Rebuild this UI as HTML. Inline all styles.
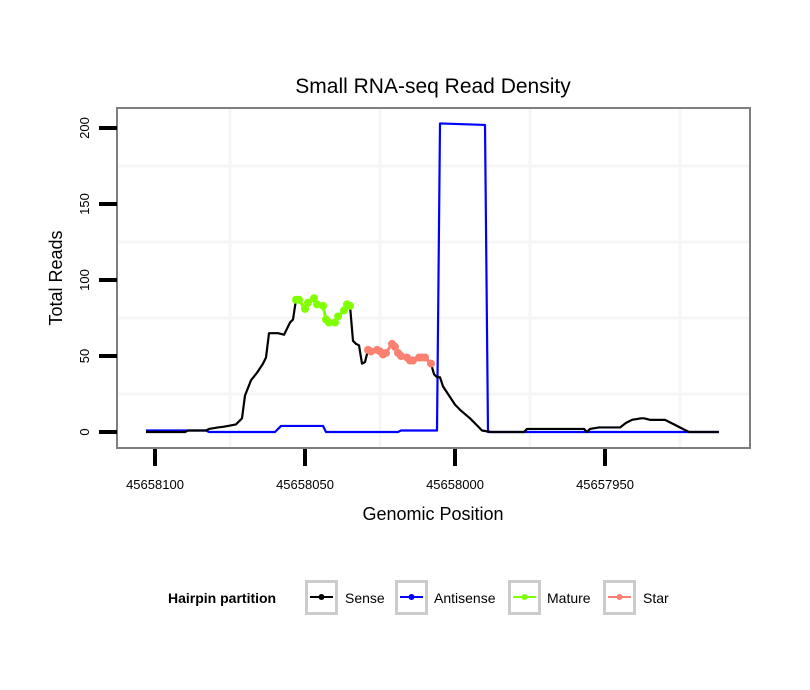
<!DOCTYPE html>
<html><head><meta charset="utf-8"><style>
html,body{margin:0;padding:0;background:#fff;}
svg{display:block;font-family:"Liberation Sans",Arial,sans-serif;}
</style></head><body>
<svg id="chart" width="810" height="690" viewBox="0 0 810 690">
<text x="433" y="93" text-anchor="middle" font-size="21">Small RNA-seq Read Density</text>
<rect x="117" y="108" width="633" height="340" fill="#fff"/>
<g id="grid"></g>
<g id="series"></g>
<rect x="117" y="108" width="633" height="340" fill="none" stroke="#7f7f7f" stroke-width="2"/>
<g id="axes"></g>
<text x="433" y="520" text-anchor="middle" font-size="18">Genomic Position</text>
<text transform="translate(62,278) rotate(-90)" text-anchor="middle" font-size="18">Total Reads</text>
<g>
<text x="168" y="603" font-size="14" font-weight="bold">Hairpin partition</text>
<g>
<rect x="306.5" y="581.5" width="30" height="32" fill="#fff" stroke="#cccccc" stroke-width="3"/>
<line x1="310" y1="597" x2="333" y2="597" stroke="#000" stroke-width="2"/><circle cx="321.5" cy="597" r="3" fill="#000"/>
<text x="345" y="603" font-size="14">Sense</text></g>
<g>
<rect x="396.5" y="581.5" width="30" height="32" fill="#fff" stroke="#cccccc" stroke-width="3"/>
<line x1="400" y1="597" x2="423" y2="597" stroke="#0000ff" stroke-width="2"/><circle cx="411.5" cy="597" r="3" fill="#0000ff"/>
<text x="434" y="603" font-size="14">Antisense</text></g>
<g>
<rect x="509.5" y="581.5" width="30" height="32" fill="#fff" stroke="#cccccc" stroke-width="3"/>
<line x1="513" y1="597" x2="536" y2="597" stroke="#7fff00" stroke-width="2"/><circle cx="524.5" cy="597" r="3" fill="#7fff00"/>
<text x="547" y="603" font-size="14">Mature</text></g>
<g>
<rect x="604.5" y="581.5" width="30" height="32" fill="#fff" stroke="#cccccc" stroke-width="3"/>
<line x1="608" y1="597" x2="631" y2="597" stroke="#fa8072" stroke-width="2"/><circle cx="619.5" cy="597" r="3" fill="#fa8072"/>
<text x="643" y="603" font-size="14">Star</text></g>
</g>
</svg>
<script>
const xTicks = [45658100, 45658050, 45658000, 45657950];
const xMinor = [45658075, 45658025, 45657975, 45657925];
const yTicks = [0, 50, 100, 150, 200];
const yMinor = [25, 75, 125, 175];
const sensePos = [45658103,45658090,45658089,45658083,45658082,45658079,45658077,45658073,45658071,45658070,45658068,45658066,45658064,45658063,45658062,45658059,45658057,45658055,45658054,45658053,45658052,45658050,45658049,45658047,45658046,45658044,45658043,45658042,45658040,45658039,45658037,45658036,45658035,45658034,45658033,45658032,45658031,45658030,45658029,45658028,45658026,45658025,45658024,45658023,45658021,45658020,45658019,45658018,45658016,45658015,45658014,45658012,45658011,45658010,45658008,45658007,45658006,45658005,45658004,45658002,45658000,45657998,45657995,45657993,45657991,45657988,45657977,45657976,45657957,45657956,45657955,45657952,45657945,45657943,45657941,45657938,45657937,45657935,45657930,45657927,45657924,45657922,45657912];
const senseVal = [0,0,1,1,2,3,3.5,5,9,24,34,39,45,49,65,65,64,72,74,87,87,81,85,88,84,83,74,72,72,76,80,84,83,60,58,57,45,46,54,53,54,53,51,52,58,56,52,50,49,47,47,49,49,49,45,38,36,36,30,24,18,14,9,5,1,0,0,2,2,0,2,3,3,6,8,9,9,8,8,5,2,0,0];
const maturePos = [45658053,45658052,45658050,45658049,45658047,45658046,45658044,45658043,45658042,45658040,45658039,45658037,45658036,45658035];
const matureVal = [87,87,81,85,88,84,83,74,72,72,76,80,84,83];
const starPos = [45658029,45658028,45658026,45658025,45658024,45658023,45658021,45658020,45658019,45658018,45658016,45658015,45658014,45658012,45658011,45658010,45658008];
const starVal = [54,53,54,53,51,52,58,56,52,50,49,47,47,49,49,49,45];
const antiPos = [45658103,45658083,45658082,45658060,45658058,45658044,45658043,45658019,45658018,45658006,45658005,45657990,45657989,45657912];
const antiVal = [1,1,0,0,4,4,0,0,1,1,203,202,0,0];

const X = p => 155 + (45658100 - p) * 3;
const Y = v => 432 - v * 1.52;
const NS = 'http://www.w3.org/2000/svg';
function mk(tag, attrs, parent){const e=document.createElementNS(NS,tag);for(const k in attrs)e.setAttribute(k,attrs[k]);parent.appendChild(e);return e;}
const grid=document.getElementById('grid'), series=document.getElementById('series'), axes=document.getElementById('axes');
xMinor.forEach(p=>{const l=mk('line',{x1:X(p),x2:X(p),y1:109,y2:447,stroke:'#f6f6f6','stroke-width':3},grid);

});
yMinor.forEach(v=>{const l=mk('line',{x1:118,x2:749,y1:Y(v),y2:Y(v),stroke:'#f6f6f6','stroke-width':3},grid);

});
function line(pos,val,color,name,dots){
  const d=pos.map((p,i)=>(i?'L':'M')+X(p)+' '+Y(val[i])).join(' ');
  const pa=mk('path',{d:d,fill:'none',stroke:color,'stroke-width':dots?3:2.2,'stroke-linejoin':'round'},series);
  
  
  if(dots) pos.forEach((p,i)=>{const c=mk('circle',{cx:X(p),cy:Y(val[i]),r:4,fill:color},series);
    
    });
}
line(antiPos,antiVal,'#0000ff','antisense',false);
line(sensePos,senseVal,'#000000','sense',false);
line(maturePos,matureVal,'#7fff00','mature',true);
line(starPos,starVal,'#fa8072','star',true);
yTicks.forEach(v=>{const t=mk('line',{x1:99,x2:117,y1:Y(v),y2:Y(v),stroke:'#000','stroke-width':4},axes);


const tx=mk('text',{transform:`translate(89,${Y(v)}) rotate(-90)`,'text-anchor':'middle','font-size':13},axes);
tx.textContent=v;

});
xTicks.forEach(p=>{const t=mk('line',{x1:X(p),x2:X(p),y1:449,y2:466,stroke:'#000','stroke-width':4},axes);


const tx=mk('text',{x:X(p),y:489,'text-anchor':'middle','font-size':13},axes);
tx.textContent=p;

});
</script>
</body></html>
